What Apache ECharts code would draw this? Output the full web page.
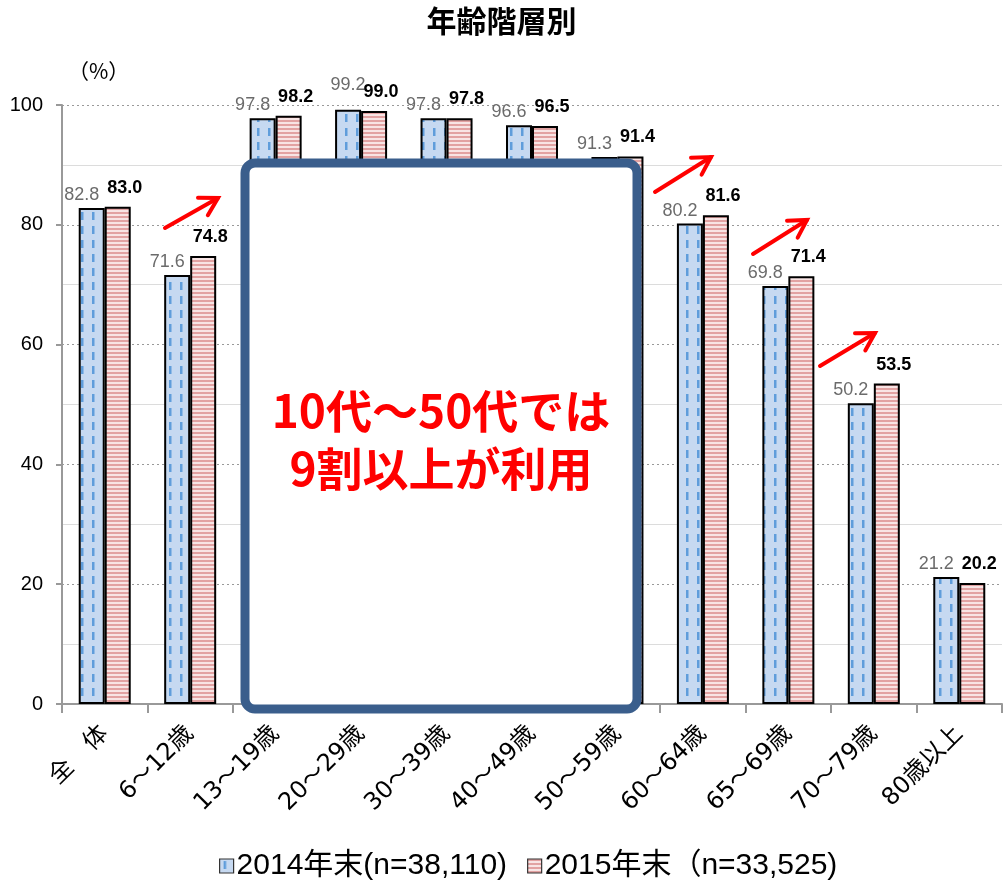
<!DOCTYPE html>
<html>
<head>
<meta charset="utf-8">
<script src="https://cdn.jsdelivr.net/npm/echarts@6/dist/echarts.min.js"></script>
<style>
  html, body { margin: 0; padding: 0; background: #fff; }
  #chart { width: 1003px; height: 883px; }
</style>
</head>
<body>
<div id="chart"></div>
<script>
// Age brackets and usage rates (%)
const categories = ['全　体', '6～12歳', '13～19歳', '20～29歳', '30～39歳', '40～49歳',
  '50～59歳', '60～64歳', '65～69歳', '70～79歳', '80歳以上'];
const values2014 = [82.8, 71.6, 97.8, 99.2, 97.8, 96.6, 91.3, 80.2, 69.8, 50.2, 21.2];
const values2015 = [83.0, 74.8, 98.2, 99.0, 97.8, 96.5, 91.4, 81.6, 71.4, 53.5, 20.2];
const seriesNames = ['2014年末(n=38,110)', '2015年末（n=33,525)'];
const yTicks = [0, 20, 40, 60, 80, 100];

const CJK = '"Noto Sans CJK JP", "Noto Sans", sans-serif';
const NUM = '"Liberation Sans", "Noto Sans CJK JP", sans-serif';
const AXIS_X = '"DejaVu Sans", "Noto Sans CJK JP", sans-serif';

// Fill patterns: dashed blue and pink stripes
function bluePattern() {
  const c = document.createElement('canvas');
  c.width = 11; c.height = 14;
  const g = c.getContext('2d');
  g.fillStyle = '#c6d9f1';
  g.fillRect(0, 0, 11, 14);
  g.fillStyle = '#5f9ddb';
  g.fillRect(4, 2, 2.5, 8);
  return c;
}
function redPattern() {
  const c = document.createElement('canvas');
  c.width = 8; c.height = 4;
  const g = c.getContext('2d');
  g.fillStyle = '#f8e4e4';
  g.fillRect(0, 0, 8, 4);
  g.fillStyle = '#e2a2a2';
  g.fillRect(0, 0, 8, 2);
  return c;
}
const blueFill = { image: bluePattern(), repeat: 'repeat' };
const redFill = { image: redPattern(), repeat: 'repeat' };

// Upward trend arrows (tail -> head), in pixels
const arrows = [
  [[165, 228], [218, 198]],
  [[655, 192], [711, 157]],
  [[753, 254], [807, 220]],
  [[820, 366], [875, 333]]
];
function arrowGraphics() {
  const out = [];
  arrows.forEach(([t, h]) => {
    const ang = Math.atan2(h[1] - t[1], h[0] - t[0]);
    const len = 20, spread = Math.PI / 6;
    const b1 = [h[0] - len * Math.cos(ang - spread), h[1] - len * Math.sin(ang - spread)];
    const b2 = [h[0] - len * Math.cos(ang + spread), h[1] - len * Math.sin(ang + spread)];
    out.push({ type: 'line', z: 100, shape: { x1: t[0], y1: t[1], x2: h[0], y2: h[1] },
      style: { stroke: '#ff0000', lineWidth: 4, lineCap: 'round' } });
    out.push({ type: 'polyline', z: 100, shape: { points: [b1, h, b2] },
      style: { stroke: '#ff0000', lineWidth: 4, fill: null, lineJoin: 'miter', lineCap: 'round' } });
  });
  return out;
}

// 2014 values; the 20～29 label sits higher so it clears its neighbour
const data2014 = values2014.map((v, i) => (i === 3
  ? { value: v, label: { offset: [0, -12] } }
  : v));

const chart = echarts.init(document.getElementById('chart'), null, { renderer: 'canvas' });

const option = {
  animation: false,
  backgroundColor: '#ffffff',
  title: {
    text: '年齢階層別',
    left: 'center',
    top: 1,
    textStyle: { fontFamily: CJK, fontSize: 30, fontWeight: 'bold', color: '#000' }
  },
  grid: { left: 62, right: 1, top: 105, bottom: 179, containLabel: false },
  legend: {
    top: 846,
    left: 214,
    itemWidth: 14,
    itemHeight: 14,
    itemGap: 20,
    icon: 'rect',
    data: seriesNames,
    textStyle: { fontFamily: '"Liberation Sans Narrow", "Liberation Sans", "Noto Sans CJK JP", sans-serif', fontSize: 30, color: '#000', padding: [0, 0, 0, -2] },
    itemStyle: { borderColor: '#333', borderWidth: 1.2 }
  },
  xAxis: {
    type: 'category',
    data: categories,
    boundaryGap: true,
    axisLine: { lineStyle: { color: '#999', width: 2 } },
    axisTick: { show: true, length: 9, lineStyle: { color: '#999', width: 2 } },
    axisLabel: {
      rotate: 45, margin: 26, interval: 0,
      fontFamily: AXIS_X, fontSize: 24, color: '#000'
    }
  },
  yAxis: {
    type: 'value',
    min: yTicks[0],
    max: yTicks[yTicks.length - 1],
    interval: 20,
    axisLine: { show: true, lineStyle: { color: '#999', width: 2 } },
    axisTick: { show: true, inside: false, length: 6, lineStyle: { color: '#999', width: 2 } },
    axisLabel: { margin: 19, fontFamily: NUM, fontSize: 20, color: '#000' },
    splitLine: { show: true, lineStyle: { color: '#999', width: 1.2, type: [2, 3] } },
    minorTick: { show: false, splitNumber: 2 },
    minorSplitLine: { show: true, lineStyle: { color: '#dcdcdc', width: 1.2 } }
  },
  series: [
    {
      name: seriesNames[0],
      type: 'bar',
      data: data2014,
      barWidth: 26,
      barGap: '0%',
      itemStyle: { color: blueFill, borderColor: '#000', borderWidth: 2 },
      label: {
        show: true, position: 'top', distance: 4, offset: [-10, 0],
        fontFamily: NUM, fontSize: 18, color: '#6b6b6b',
        formatter: p => p.value.toFixed(1)
      },
      z: 2
    },
    {
      name: seriesNames[1],
      type: 'bar',
      data: values2015,
      barWidth: 26,
      itemStyle: { color: redFill, borderColor: '#000', borderWidth: 2 },
      label: {
        show: true, position: 'top', distance: 10, offset: [7, 0],
        fontFamily: NUM, fontSize: 18, fontWeight: 'bold', color: '#000',
        formatter: p => p.value.toFixed(1)
      },
      z: 2
    }
  ],
  graphic: [
    {
      type: 'text', left: 68, top: 61, z: 50,
      style: { text: '（%）', fontFamily: CJK, fontSize: 21, fill: '#000' }
    },
    {
      type: 'rect', z: 90,
      shape: { x: 245, y: 163, width: 392, height: 546, r: 10 },
      style: { fill: '#ffffff', stroke: '#3a5e8c', lineWidth: 9 }
    },
    {
      type: 'text', z: 95,
      style: {
        text: '10代～50代では\n9割以上が利用',
        x: 441, y: 440, align: 'center', verticalAlign: 'middle',
        fontFamily: CJK, fontSize: 46, fontWeight: 'bold', fill: '#ff0000', lineHeight: 58
      }
    }
  ].concat(arrowGraphics())
};

chart.setOption(option);
</script>
</body>
</html>
